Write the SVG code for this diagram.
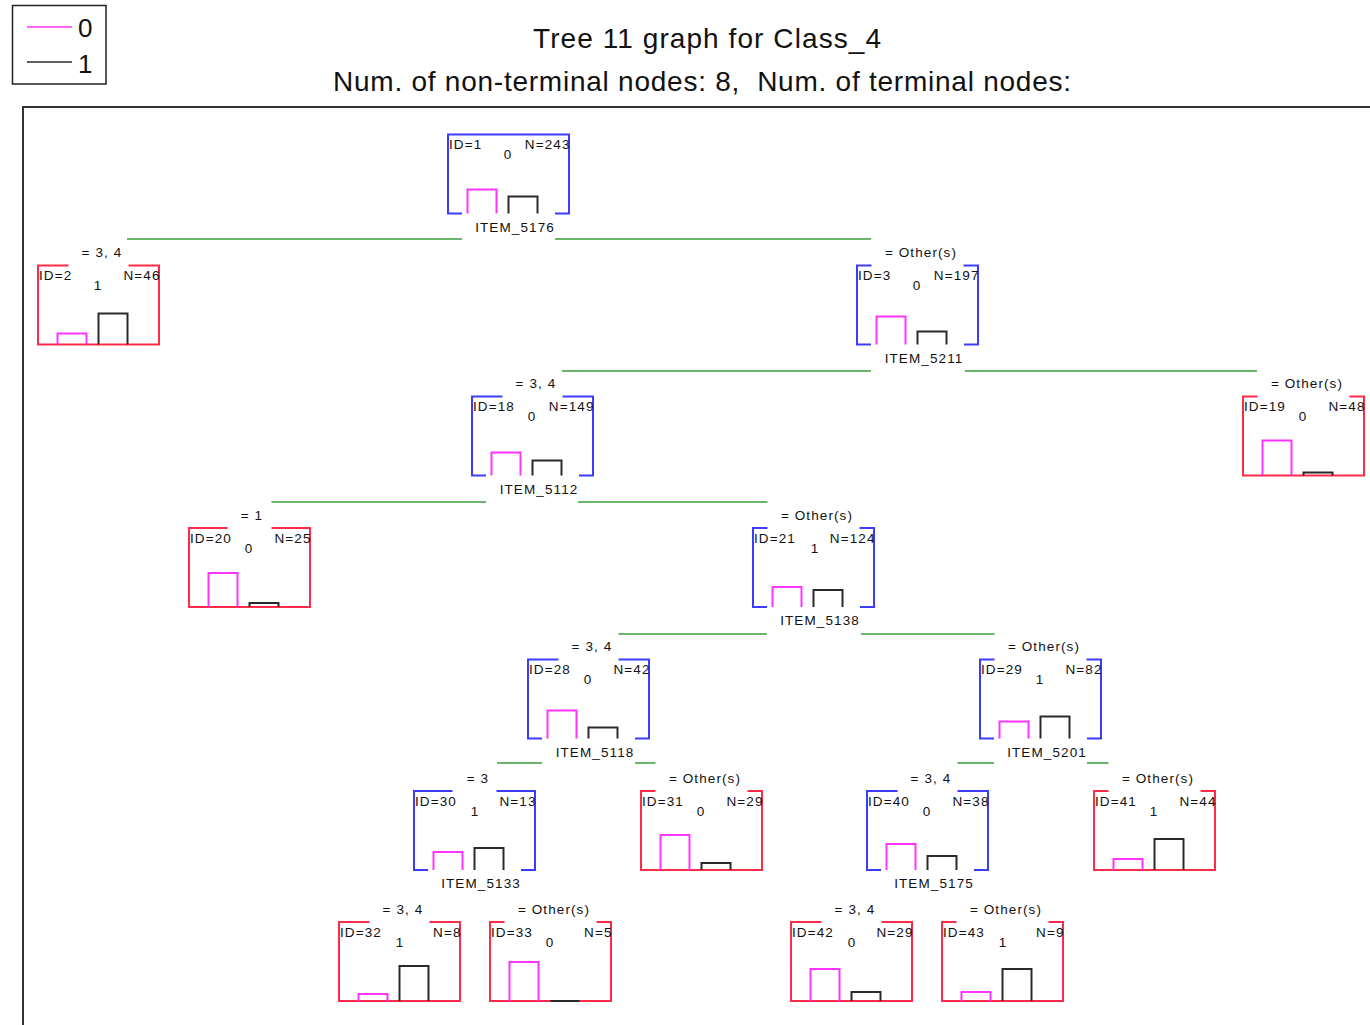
<svg xmlns="http://www.w3.org/2000/svg" width="1370" height="1025" viewBox="0 0 1370 1025">
<style>
text{font-family:"Liberation Sans",Arial,sans-serif;fill:#111}
.t{font-size:13.5px;letter-spacing:1.1px}
.m{text-anchor:middle}
.e{text-anchor:end}
.blue{fill:none;stroke:#3c3cff;stroke-width:2}
.red{fill:none;stroke:#ff2a48;stroke-width:2}
.bm{fill:none;stroke:#ff33ff;stroke-width:2}
.bk{fill:none;stroke:#2a2a2a;stroke-width:2}
.cn{fill:none;stroke:#3c9a3c;stroke-width:1.6}
</style>
<rect width="1370" height="1025" fill="#fff"/>
<g id="legend">
<rect x="12.5" y="5.5" width="93.5" height="78.5" fill="none" stroke="#202020" stroke-width="1.5"/>
<path d="M27,27 H72" stroke="#ff33ff" stroke-width="1.5"/>
<path d="M27,62 H72" stroke="#2a2a2a" stroke-width="1.5"/>
<text x="78" y="37" font-size="26">0</text>
<text x="78" y="73" font-size="26">1</text>
</g>
<g id="title">
<text x="707" y="48" font-size="28" class="m" textLength="348" lengthAdjust="spacing">Tree 11 graph for Class_4</text>
<text x="702" y="91" font-size="28" class="m" textLength="738" lengthAdjust="spacing" xml:space="preserve">Num. of non-terminal nodes: 8,  Num. of terminal nodes:</text>
</g>
<path id="frame" d="M23,1025 V107 H1370" fill="none" stroke="#333" stroke-width="2"/>
<g id="connectors">
<path class="cn" d="M127,239 H462 M555,239 H871"/>
<path class="cn" d="M562,371 H871 M965,371 H1257"/>
<path class="cn" d="M271.5,502 H486 M578,502 H767.5"/>
<path class="cn" d="M618.5,634 H767 M861,634 H994.5"/>
<path class="cn" d="M497,763 H542 M635,763 H655.5"/>
<path class="cn" d="M957.5,763 H994 M1087,763 H1108.5"/>
</g>
<g id="node1">
<path class="blue" d="M462,213.5 H448 V134.5 H569 V213.5 H555"/>
<path class="bm" d="M467.5,213.5 V189.5 H496.5 V213.5"/>
<path class="bk" d="M508.5,213.5 V196.5 H537.5 V213.5"/>
<text class="t" x="449" y="149">ID=1</text><text class="t e" x="570.5" y="149">N=243</text>
<text class="t m" x="508" y="159">0</text><text class="t m" x="515" y="231.5">ITEM_5176</text>
</g>
<g id="node2">
<path class="red" d="M68.5,265.5 H38 V344.5 H159 V265.5 H128.5"/>
<path class="bm" d="M57.5,344.5 V333.5 H86.5 V344.5"/>
<path class="bk" d="M98.5,344.5 V313.5 H127.5 V344.5"/>
<text class="t m" x="102" y="257">= 3, 4</text>
<text class="t" x="39" y="280">ID=2</text><text class="t e" x="160.5" y="280">N=46</text>
<text class="t m" x="98" y="290">1</text>
</g>
<g id="node3">
<path class="blue" d="M871.5,265.5 H857 V344.5 H871 M964,344.5 H978 V265.5 H963.5"/>
<path class="bm" d="M876.5,344.5 V316.5 H905.5 V344.5"/>
<path class="bk" d="M917.5,344.5 V331.5 H946.5 V344.5"/>
<text class="t m" x="921" y="257">= Other(s)</text>
<text class="t" x="858" y="280">ID=3</text><text class="t e" x="979.5" y="280">N=197</text>
<text class="t m" x="917" y="290">0</text><text class="t m" x="924" y="362.5">ITEM_5211</text>
</g>
<g id="node18">
<path class="blue" d="M502.5,396.5 H472 V475.5 H486 M579,475.5 H593 V396.5 H562.5"/>
<path class="bm" d="M491.5,475.5 V452.5 H520.5 V475.5"/>
<path class="bk" d="M532.5,475.5 V460.5 H561.5 V475.5"/>
<text class="t m" x="536" y="388">= 3, 4</text>
<text class="t" x="473" y="411">ID=18</text><text class="t e" x="594.5" y="411">N=149</text>
<text class="t m" x="532" y="421">0</text><text class="t m" x="539" y="493.5">ITEM_5112</text>
</g>
<g id="node19">
<path class="red" d="M1257.5,396.5 H1243 V475.5 H1364 V396.5 H1349.5"/>
<path class="bm" d="M1262.5,475.5 V440.5 H1291.5 V475.5"/>
<path class="bk" d="M1303.5,475.5 V472.5 H1332.5 V475.5"/>
<text class="t m" x="1307" y="388">= Other(s)</text>
<text class="t" x="1244" y="411">ID=19</text><text class="t e" x="1365.5" y="411">N=48</text>
<text class="t m" x="1303" y="421">0</text>
</g>
<g id="node20">
<path class="red" d="M227.5,528 H189 V607 H310 V528 H271.5"/>
<path class="bm" d="M208.5,607 V573 H237.5 V607"/>
<path class="bk" d="M249.5,607 V603 H278.5 V607"/>
<text class="t m" x="252" y="519.5">= 1</text>
<text class="t" x="190" y="542.5">ID=20</text><text class="t e" x="311.5" y="542.5">N=25</text>
<text class="t m" x="249" y="552.5">0</text>
</g>
<g id="node21">
<path class="blue" d="M767.5,528 H753 V607 H767 M860,607 H874 V528 H859.5"/>
<path class="bm" d="M772.5,607 V587 H801.5 V607"/>
<path class="bk" d="M813.5,607 V590 H842.5 V607"/>
<text class="t m" x="817" y="519.5">= Other(s)</text>
<text class="t" x="754" y="542.5">ID=21</text><text class="t e" x="875.5" y="542.5">N=124</text>
<text class="t m" x="815" y="552.5">1</text><text class="t m" x="820" y="625">ITEM_5138</text>
</g>
<g id="node28">
<path class="blue" d="M558.5,659.5 H528 V738.5 H542 M635,738.5 H649 V659.5 H618.5"/>
<path class="bm" d="M547.5,738.5 V710.5 H576.5 V738.5"/>
<path class="bk" d="M588.5,738.5 V727.5 H617.5 V738.5"/>
<text class="t m" x="592" y="651">= 3, 4</text>
<text class="t" x="529" y="674">ID=28</text><text class="t e" x="650.5" y="674">N=42</text>
<text class="t m" x="588" y="684">0</text><text class="t m" x="595" y="756.5">ITEM_5118</text>
</g>
<g id="node29">
<path class="blue" d="M994.5,659.5 H980 V738.5 H994 M1087,738.5 H1101 V659.5 H1086.5"/>
<path class="bm" d="M999.5,738.5 V721.5 H1028.5 V738.5"/>
<path class="bk" d="M1040.5,738.5 V716.5 H1069.5 V738.5"/>
<text class="t m" x="1044" y="651">= Other(s)</text>
<text class="t" x="981" y="674">ID=29</text><text class="t e" x="1102.5" y="674">N=82</text>
<text class="t m" x="1040" y="684">1</text><text class="t m" x="1047" y="756.5">ITEM_5201</text>
</g>
<g id="node30">
<path class="blue" d="M452.5,791 H414 V870 H428 M521,870 H535 V791 H496.5"/>
<path class="bm" d="M433.5,870 V852 H462.5 V870"/>
<path class="bk" d="M474.5,870 V848 H503.5 V870"/>
<text class="t m" x="478" y="782.5">= 3</text>
<text class="t" x="415" y="805.5">ID=30</text><text class="t e" x="536.5" y="805.5">N=13</text>
<text class="t m" x="475" y="815.5">1</text><text class="t m" x="481" y="887.5">ITEM_5133</text>
</g>
<g id="node31">
<path class="red" d="M655.5,791 H641 V870 H762 V791 H747.5"/>
<path class="bm" d="M660.5,870 V835 H689.5 V870"/>
<path class="bk" d="M701.5,870 V863 H730.5 V870"/>
<text class="t m" x="705" y="782.5">= Other(s)</text>
<text class="t" x="642" y="805.5">ID=31</text><text class="t e" x="763.5" y="805.5">N=29</text>
<text class="t m" x="701" y="815.5">0</text>
</g>
<g id="node40">
<path class="blue" d="M897.5,791 H867 V870 H881 M974,870 H988 V791 H957.5"/>
<path class="bm" d="M886.5,870 V844 H915.5 V870"/>
<path class="bk" d="M927.5,870 V856 H956.5 V870"/>
<text class="t m" x="931" y="782.5">= 3, 4</text>
<text class="t" x="868" y="805.5">ID=40</text><text class="t e" x="989.5" y="805.5">N=38</text>
<text class="t m" x="927" y="815.5">0</text><text class="t m" x="934" y="887.5">ITEM_5175</text>
</g>
<g id="node41">
<path class="red" d="M1108.5,791 H1094 V870 H1215 V791 H1200.5"/>
<path class="bm" d="M1113.5,870 V859 H1142.5 V870"/>
<path class="bk" d="M1154.5,870 V839 H1183.5 V870"/>
<text class="t m" x="1158" y="782.5">= Other(s)</text>
<text class="t" x="1095" y="805.5">ID=41</text><text class="t e" x="1216.5" y="805.5">N=44</text>
<text class="t m" x="1154" y="815.5">1</text>
</g>
<g id="node32">
<path class="red" d="M369.5,922 H339 V1001 H460 V922 H429.5"/>
<path class="bm" d="M358.5,1001 V994 H387.5 V1001"/>
<path class="bk" d="M399.5,1001 V966 H428.5 V1001"/>
<text class="t m" x="403" y="913.5">= 3, 4</text>
<text class="t" x="340" y="936.5">ID=32</text><text class="t e" x="461.5" y="936.5">N=8</text>
<text class="t m" x="400" y="946.5">1</text>
</g>
<g id="node33">
<path class="red" d="M504.5,922 H490 V1001 H611 V922 H596.5"/>
<path class="bm" d="M509.5,1001 V962 H538.5 V1001"/>
<path class="bk" d="M550.5,1001 H579.5"/>
<text class="t m" x="554" y="913.5">= Other(s)</text>
<text class="t" x="491" y="936.5">ID=33</text><text class="t e" x="612.5" y="936.5">N=5</text>
<text class="t m" x="550" y="946.5">0</text>
</g>
<g id="node42">
<path class="red" d="M821.5,922 H791 V1001 H912 V922 H881.5"/>
<path class="bm" d="M810.5,1001 V969 H839.5 V1001"/>
<path class="bk" d="M851.5,1001 V992 H880.5 V1001"/>
<text class="t m" x="855" y="913.5">= 3, 4</text>
<text class="t" x="792" y="936.5">ID=42</text><text class="t e" x="913.5" y="936.5">N=29</text>
<text class="t m" x="852" y="946.5">0</text>
</g>
<g id="node43">
<path class="red" d="M956.5,922 H942 V1001 H1063 V922 H1048.5"/>
<path class="bm" d="M961.5,1001 V992 H990.5 V1001"/>
<path class="bk" d="M1002.5,1001 V969 H1031.5 V1001"/>
<text class="t m" x="1006" y="913.5">= Other(s)</text>
<text class="t" x="943" y="936.5">ID=43</text><text class="t e" x="1064.5" y="936.5">N=9</text>
<text class="t m" x="1003" y="946.5">1</text>
</g>
</svg>
